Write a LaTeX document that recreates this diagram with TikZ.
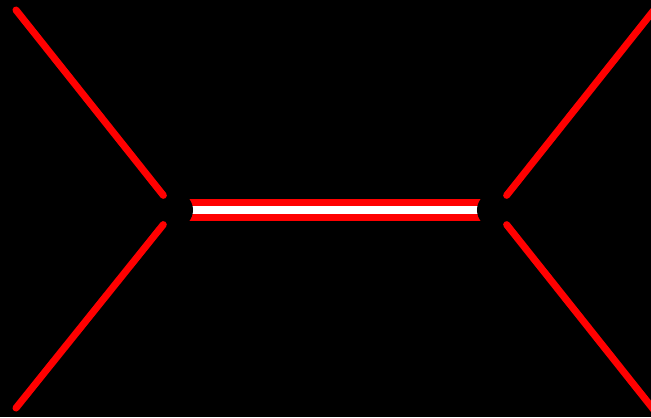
\documentclass[tikz,border=0pt]{standalone}
\usepackage{tikz}

\begin{document}
\begin{tikzpicture}[x=0.01cm,y=-0.01cm,
    vertex/.style={circle,fill=black,inner sep=0pt,minimum size=0.36cm},
    leg/.style={draw=red,line width=2pt,line cap=round},
    prop/.style={draw=red,line width=2pt,double=white,double distance=2pt}]

% Background
\fill[black] (0,0) rectangle (651,417);
\useasboundingbox (0,0) rectangle (651,417);
\clip (0,0) rectangle (651,417);

% Vertex positions
\coordinate (p1) at (175,210);
\coordinate (p2) at (495,210);

% Internal line (under the vertices)
\draw[prop] (p1) -- (p2);

% Vertices
\node[vertex] (v1) at (p1) {};
\node[vertex] (v2) at (p2) {};

% External legs
\coordinate (a) at (16,10);
\coordinate (b) at (16,408);
\coordinate (c) at (654,10);
\coordinate (d) at (654,410);

\draw[leg] (a) -- (v1);
\draw[leg] (b) -- (v1);
\draw[leg] (c) -- (v2);
\draw[leg] (d) -- (v2);

\end{tikzpicture}
\end{document}
